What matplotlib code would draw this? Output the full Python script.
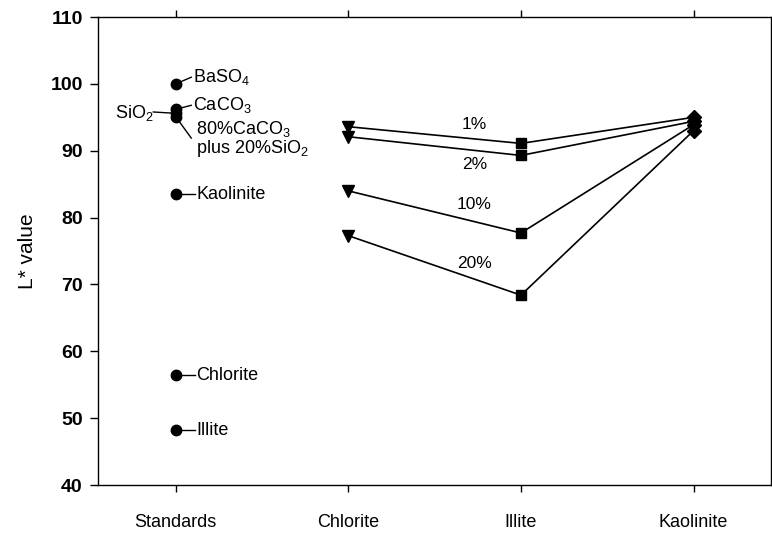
import numpy as np
import matplotlib.pyplot as plt

plt.rcParams['font.family'] = ['Liberation Sans', 'DejaVu Sans']
plt.rcParams['mathtext.default'] = 'regular'

# Reference standards (all plotted in the first column)
std_names = ['BaSO$_4$', 'CaCO$_3$', 'SiO$_2$', '80%CaCO$_3$\nplus 20%SiO$_2$',
             'Kaolinite', 'Chlorite', 'Illite']
std_L = [100.0, 96.2, 95.6, 95.1, 83.5, 56.4, 48.2]

# Clay mixtures at four addition levels
categories = ['Standards', 'Chlorite', 'Illite', 'Kaolinite']
levels = ['1%', '2%', '10%', '20%']
L_chlorite = [93.6, 92.1, 84.0, 77.3]
L_illite = [91.1, 89.3, 77.7, 68.4]
L_kaolinite = [95.0, 94.4, 93.9, 93.0]

fig = plt.figure(figsize=(7.72, 5.33), dpi=100)
ax = fig.add_axes([0.127, 0.09, 0.872, 0.878])

xpos = np.arange(1, len(categories) + 1)

# lines joining each level across the clays
for i in range(len(levels)):
    ax.plot(xpos[1:], [L_chlorite[i], L_illite[i], L_kaolinite[i]], color='black', lw=1.2, zorder=2)

ax.plot(np.full(len(L_chlorite), xpos[1]), L_chlorite, 'v', color='black', ms=8, ls='none', zorder=3)
ax.plot(np.full(len(L_illite), xpos[2]), L_illite, 's', color='black', ms=7, ls='none', zorder=3)
ax.plot(np.full(len(L_kaolinite), xpos[3]), L_kaolinite, 'D', color='black', ms=7, ls='none', zorder=3)

# standards with short leader lines
ax.plot(np.full(len(std_L), xpos[0]), std_L, 'o', color='black', ms=7.5, ls='none', zorder=3)

x0 = xpos[0]
leaders = {
    0: ((x0, x0 + 0.09), (std_L[0], std_L[0] + 1.0), (x0 + 0.1, std_L[0] + 1.1)),
    1: ((x0, x0 + 0.09), (std_L[1], std_L[1] + 0.6), (x0 + 0.1, std_L[1] + 0.7)),
    3: ((x0, x0 + 0.09), (std_L[3], std_L[3] - 3.2), (x0 + 0.115, std_L[3] - 3.3)),
    4: ((x0, x0 + 0.11), (std_L[4], std_L[4]), (x0 + 0.12, std_L[4])),
    5: ((x0, x0 + 0.11), (std_L[5], std_L[5]), (x0 + 0.12, std_L[5])),
    6: ((x0, x0 + 0.11), (std_L[6], std_L[6]), (x0 + 0.12, std_L[6])),
}
for k, (lx, ly, tpos) in leaders.items():
    ax.plot(lx, ly, color='black', lw=1.0, zorder=2)
    ax.text(tpos[0], tpos[1], std_names[k], fontsize=13, ha='left', va='center',
            linespacing=0.95)

# SiO2 is labelled on the left side
ax.plot((x0 - 0.13, x0), (std_L[2] + 0.2, std_L[2]), color='black', lw=1.0, zorder=2)
ax.text(x0 - 0.13, std_L[2] + 0.1, std_names[2], fontsize=13, ha='right', va='center')

# level labels between chlorite and illite
level_y = [93.9, 87.9, 81.9, 73.1]
for lab, y in zip(levels, level_y):
    ax.text(2.73, y, lab, fontsize=12.5, ha='center', va='center')

ax.set_xlim(0.55, 4.45)
ax.set_ylim(40, 110)
ax.set_yticks(np.arange(40, 111, 10))
ax.set_xticks(xpos)
ax.set_xticklabels(categories, fontsize=13)
ax.tick_params(axis='y', labelsize=14, direction='out', length=6, width=1, right=False, pad=5)
ax.tick_params(axis='x', direction='out', length=5, width=1, top=True, pad=16)
for lab in ax.get_yticklabels():
    lab.set_fontweight('bold')
ax.set_ylabel('L* value', fontsize=15, labelpad=10)
for s in ax.spines.values():
    s.set_linewidth(1.0)

fig.savefig('out.png', dpi=100)
